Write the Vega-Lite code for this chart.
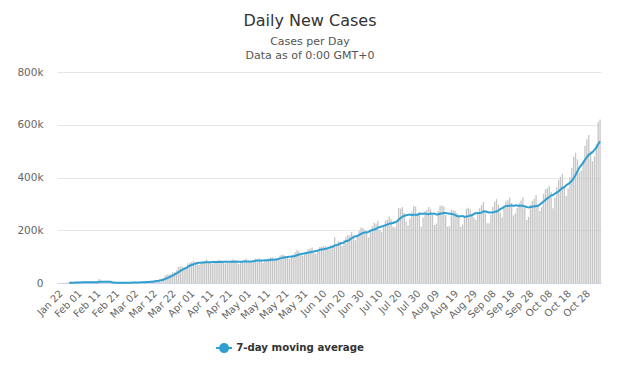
{
"$schema": "https://vega.github.io/schema/vega-lite/v6.json",
"width": 544, "height": 211,
"autosize": {"type": "none"},
"padding": {"left": 57, "top": 72, "right": 19, "bottom": 85},
"background": "white",
"title": {"text": "Daily New Cases", "subtitle": ["Cases per Day", "Data as of 0:00 GMT+0"], "anchor": "middle", "frame": "group", "dx": -19, "font": "DejaVu Sans", "fontSize": 16, "fontWeight": "normal", "color": "#333333", "subtitleFont": "DejaVu Sans", "subtitleFontSize": 11, "subtitleColor": "#555555", "subtitleLineHeight": 14, "subtitlePadding": 7, "offset": 6},
"config": {"view": {"stroke": null}},
"data": {"values": [
{"d":"Jan 22","c":100},{"d":"Jan 23","c":260},{"d":"Jan 24","c":260},{"d":"Jan 25","c":680},{"d":"Jan 26","c":800},{"d":"Jan 27","c":1780},
{"d":"Jan 28","c":1480,"m":766},{"d":"Jan 29","c":1750,"m":1001},{"d":"Jan 30","c":1740,"m":1213},{"d":"Jan 31","c":2000,"m":1461},
{"d":"Feb 01","c":2600,"m":1736},{"d":"Feb 02","c":2800,"m":2021},{"d":"Feb 03","c":3200,"m":2224},{"d":"Feb 04","c":3900,"m":2570},{"d":"Feb 05","c":3700,"m":2849},{"d":"Feb 06","c":3200,"m":3057},{"d":"Feb 07","c":3400,"m":3257},{"d":"Feb 08","c":2700,"m":3271},{"d":"Feb 09","c":2600,"m":3243},{"d":"Feb 10","c":3000,"m":3214},
{"d":"Feb 11","c":2500,"m":3014},{"d":"Feb 12","c":2000,"m":2771},{"d":"Feb 13","c":15100,"m":4471},{"d":"Feb 14","c":6500,"m":4914},{"d":"Feb 15","c":2100,"m":4829},{"d":"Feb 16","c":2000,"m":4743},{"d":"Feb 17","c":2000,"m":4600},{"d":"Feb 18","c":1900,"m":4514},{"d":"Feb 19","c":550,"m":4307},{"d":"Feb 20","c":600,"m":2236},
{"d":"Feb 21","c":1000,"m":1450},{"d":"Feb 22","c":1000,"m":1293},{"d":"Feb 23","c":500,"m":1079},{"d":"Feb 24","c":600,"m":879},{"d":"Feb 25","c":900,"m":736},{"d":"Feb 26","c":1000,"m":800},{"d":"Feb 27","c":1300,"m":900},{"d":"Feb 28","c":1400,"m":957},{"d":"Feb 29","c":1900,"m":1086},
{"d":"Mar 01","c":2200,"m":1329},{"d":"Mar 02","c":2000,"m":1529},{"d":"Mar 03","c":2500,"m":1757},{"d":"Mar 04","c":2300,"m":1943},{"d":"Mar 05","c":2800,"m":2157},{"d":"Mar 06","c":4000,"m":2529},{"d":"Mar 07","c":4100,"m":2843},{"d":"Mar 08","c":4000,"m":3100},{"d":"Mar 09","c":4000,"m":3386},{"d":"Mar 10","c":4500,"m":3671},
{"d":"Mar 11","c":7200,"m":4371},{"d":"Mar 12","c":7500,"m":5043},{"d":"Mar 13","c":10000,"m":5900},{"d":"Mar 14","c":10800,"m":6857},{"d":"Mar 15","c":11000,"m":7857},{"d":"Mar 16","c":14000,"m":9286},{"d":"Mar 17","c":15500,"m":10857},{"d":"Mar 18","c":19000,"m":12543},{"d":"Mar 19","c":28000,"m":15471},{"d":"Mar 20","c":32000,"m":18614},
{"d":"Mar 21","c":32000,"m":21643},{"d":"Mar 22","c":33000,"m":24786},{"d":"Mar 23","c":41000,"m":28643},{"d":"Mar 24","c":41000,"m":32286},{"d":"Mar 25","c":48000,"m":36429},{"d":"Mar 26","c":61000,"m":41143},{"d":"Mar 27","c":63000,"m":45571},{"d":"Mar 28","c":63000,"m":50000},{"d":"Mar 29","c":59000,"m":53714},{"d":"Mar 30","c":61000,"m":56571},{"d":"Mar 31","c":74000,"m":61286},
{"d":"Apr 01","c":77000,"m":65429},{"d":"Apr 02","c":80000,"m":68143},{"d":"Apr 03","c":83000,"m":71000},{"d":"Apr 04","c":80000,"m":73429},{"d":"Apr 05","c":77000,"m":76000},{"d":"Apr 06","c":68000,"m":77000},{"d":"Apr 07","c":74000,"m":77000},{"d":"Apr 08","c":81000,"m":77571},{"d":"Apr 09","c":84000,"m":78143},{"d":"Apr 10","c":89000,"m":79000},
{"d":"Apr 11","c":80000,"m":79000},{"d":"Apr 12","c":75000,"m":78714},{"d":"Apr 13","c":72000,"m":79286},{"d":"Apr 14","c":76000,"m":79571},{"d":"Apr 15","c":79000,"m":79286},{"d":"Apr 16","c":86000,"m":79571},{"d":"Apr 17","c":88000,"m":79429},{"d":"Apr 18","c":84000,"m":80000},{"d":"Apr 19","c":78000,"m":80429},{"d":"Apr 20","c":74000,"m":80714},
{"d":"Apr 21","c":78000,"m":81000},{"d":"Apr 22","c":76000,"m":80571},{"d":"Apr 23","c":84000,"m":80286},{"d":"Apr 24","c":90000,"m":80571},{"d":"Apr 25","c":86000,"m":80857},{"d":"Apr 26","c":80000,"m":81143},{"d":"Apr 27","c":72000,"m":80857},{"d":"Apr 28","c":76000,"m":80571},{"d":"Apr 29","c":79000,"m":81000},{"d":"Apr 30","c":87000,"m":81429},
{"d":"May 01","c":92000,"m":81714},{"d":"May 02","c":84000,"m":81429},{"d":"May 03","c":77000,"m":81000},{"d":"May 04","c":78000,"m":81857},{"d":"May 05","c":81000,"m":82571},{"d":"May 06","c":93000,"m":84571},{"d":"May 07","c":90000,"m":85000},{"d":"May 08","c":93000,"m":85143},{"d":"May 09","c":85000,"m":85286},{"d":"May 10","c":76000,"m":85143},
{"d":"May 11","c":83000,"m":85857},{"d":"May 12","c":86000,"m":86571},{"d":"May 13","c":94000,"m":86714},{"d":"May 14","c":97000,"m":87714},{"d":"May 15","c":96000,"m":88143},{"d":"May 16","c":83000,"m":87857},{"d":"May 17","c":88000,"m":89571},{"d":"May 18","c":92000,"m":90857},{"d":"May 19","c":104000,"m":93429},{"d":"May 20","c":107000,"m":95286},
{"d":"May 21","c":106000,"m":96571},{"d":"May 22","c":102000,"m":97429},{"d":"May 23","c":94000,"m":99000},{"d":"May 24","c":91000,"m":99429},{"d":"May 25","c":101000,"m":100714},{"d":"May 26","c":107000,"m":101143},{"d":"May 27","c":117000,"m":102571},{"d":"May 28","c":125000,"m":105286},{"d":"May 29","c":120000,"m":107857},{"d":"May 30","c":106000,"m":109571},{"d":"May 31","c":103000,"m":111286},
{"d":"Jun 01","c":110000,"m":112571},{"d":"Jun 02","c":116000,"m":113857},{"d":"Jun 03","c":128000,"m":115429},{"d":"Jun 04","c":131000,"m":116286},{"d":"Jun 05","c":135000,"m":118429},{"d":"Jun 06","c":116000,"m":119857},{"d":"Jun 07","c":111000,"m":121000},{"d":"Jun 08","c":122000,"m":122714},{"d":"Jun 09","c":136000,"m":125571},{"d":"Jun 10","c":138000,"m":127000},
{"d":"Jun 11","c":139000,"m":128143},{"d":"Jun 12","c":141000,"m":129000},{"d":"Jun 13","c":130000,"m":131000},{"d":"Jun 14","c":128000,"m":133429},{"d":"Jun 15","c":142000,"m":136286},{"d":"Jun 16","c":143000,"m":137286},{"d":"Jun 17","c":173000,"m":142286},{"d":"Jun 18","c":149000,"m":143714},{"d":"Jun 19","c":158000,"m":146143},{"d":"Jun 20","c":155000,"m":149714},
{"d":"Jun 21","c":139000,"m":151286},{"d":"Jun 22","c":163000,"m":154286},{"d":"Jun 23","c":174000,"m":158714},{"d":"Jun 24","c":182000,"m":160000},{"d":"Jun 25","c":180000,"m":164429},{"d":"Jun 26","c":194000,"m":169571},{"d":"Jun 27","c":182000,"m":173429},{"d":"Jun 28","c":162000,"m":176714},{"d":"Jun 29","c":175000,"m":178429},{"d":"Jun 30","c":198000,"m":181857},
{"d":"Jul 01","c":210000,"m":185857},{"d":"Jul 02","c":209000,"m":190000},{"d":"Jul 03","c":202000,"m":191143},{"d":"Jul 04","c":191000,"m":192429},{"d":"Jul 05","c":173000,"m":194000},{"d":"Jul 06","c":204000,"m":198143},{"d":"Jul 07","c":214000,"m":200429},{"d":"Jul 08","c":228000,"m":203000},{"d":"Jul 09","c":225000,"m":205286},{"d":"Jul 10","c":236000,"m":210143},
{"d":"Jul 11","c":202000,"m":211714},{"d":"Jul 12","c":193000,"m":214571},{"d":"Jul 13","c":217000,"m":216429},{"d":"Jul 14","c":236000,"m":219571},{"d":"Jul 15","c":240000,"m":221286},{"d":"Jul 16","c":252000,"m":225143},{"d":"Jul 17","c":242000,"m":226000},{"d":"Jul 18","c":214000,"m":227714},{"d":"Jul 19","c":210000,"m":230143},{"d":"Jul 20","c":237000,"m":233000},
{"d":"Jul 21","c":285000,"m":240000},{"d":"Jul 22","c":282000,"m":246000},{"d":"Jul 23","c":288000,"m":251143},{"d":"Jul 24","c":265000,"m":254429},{"d":"Jul 25","c":233000,"m":257143},{"d":"Jul 26","c":219000,"m":258429},{"d":"Jul 27","c":245000,"m":259571},{"d":"Jul 28","c":270000,"m":257429},{"d":"Jul 29","c":292000,"m":258857},{"d":"Jul 30","c":290000,"m":259143},{"d":"Jul 31","c":262000,"m":258714},
{"d":"Aug 01","c":265000,"m":263286},{"d":"Aug 02","c":213000,"m":262429},{"d":"Aug 03","c":248000,"m":262857},{"d":"Aug 04","c":272000,"m":263143},{"d":"Aug 05","c":278000,"m":261143},{"d":"Aug 06","c":288000,"m":260857},{"d":"Aug 07","c":279000,"m":263286},{"d":"Aug 08","c":258000,"m":262286},{"d":"Aug 09","c":220000,"m":263286},{"d":"Aug 10","c":226000,"m":260143},
{"d":"Aug 11","c":274000,"m":260429},{"d":"Aug 12","c":293000,"m":262571},{"d":"Aug 13","c":294000,"m":263429},{"d":"Aug 14","c":290000,"m":265000},{"d":"Aug 15","c":258000,"m":265000},{"d":"Aug 16","c":213000,"m":264000},{"d":"Aug 17","c":216000,"m":262571},{"d":"Aug 18","c":277000,"m":263000},{"d":"Aug 19","c":275000,"m":260429},{"d":"Aug 20","c":274000,"m":257571},
{"d":"Aug 21","c":264000,"m":253857},{"d":"Aug 22","c":253000,"m":253143},{"d":"Aug 23","c":213000,"m":253143},{"d":"Aug 24","c":222000,"m":254000},{"d":"Aug 25","c":255000,"m":250857},{"d":"Aug 26","c":282000,"m":251857},{"d":"Aug 27","c":285000,"m":253429},{"d":"Aug 28","c":280000,"m":255714},{"d":"Aug 29","c":262000,"m":257000},{"d":"Aug 30","c":248000,"m":262000},{"d":"Aug 31","c":239000,"m":264429},
{"d":"Sep 01","c":262000,"m":265429},{"d":"Sep 02","c":283000,"m":265571},{"d":"Sep 03","c":295000,"m":267000},{"d":"Sep 04","c":307000,"m":270857},{"d":"Sep 05","c":271000,"m":272143},{"d":"Sep 06","c":227000,"m":269143},{"d":"Sep 07","c":227000,"m":267429},{"d":"Sep 08","c":259000,"m":267000},{"d":"Sep 09","c":288000,"m":267714},{"d":"Sep 10","c":308000,"m":269571},
{"d":"Sep 11","c":318000,"m":271143},{"d":"Sep 12","c":297000,"m":274857},{"d":"Sep 13","c":266000,"m":280429},{"d":"Sep 14","c":248000,"m":283429},{"d":"Sep 15","c":293000,"m":288286},{"d":"Sep 16","c":310000,"m":291429},{"d":"Sep 17","c":314000,"m":292286},{"d":"Sep 18","c":324000,"m":293143},{"d":"Sep 19","c":303000,"m":294000},{"d":"Sep 20","c":256000,"m":292571},
{"d":"Sep 21","c":264000,"m":294857},{"d":"Sep 22","c":284000,"m":293571},{"d":"Sep 23","c":303000,"m":292571},{"d":"Sep 24","c":313000,"m":292429},{"d":"Sep 25","c":325000,"m":292571},{"d":"Sep 26","c":291000,"m":290857},{"d":"Sep 27","c":239000,"m":288429},{"d":"Sep 28","c":251000,"m":286571},{"d":"Sep 29","c":297000,"m":288429},{"d":"Sep 30","c":311000,"m":289571},
{"d":"Oct 01","c":319000,"m":290429},{"d":"Oct 02","c":334000,"m":291714},{"d":"Oct 03","c":298000,"m":292714},{"d":"Oct 04","c":273000,"m":297571},{"d":"Oct 05","c":288000,"m":302857},{"d":"Oct 06","c":338000,"m":308714},{"d":"Oct 07","c":355000,"m":315000},{"d":"Oct 08","c":360000,"m":320857},{"d":"Oct 09","c":368000,"m":325714},{"d":"Oct 10","c":344000,"m":332286},
{"d":"Oct 11","c":283000,"m":333714},{"d":"Oct 12","c":325000,"m":339000},{"d":"Oct 13","c":363000,"m":342571},{"d":"Oct 14","c":391000,"m":347714},{"d":"Oct 15","c":403000,"m":353857},{"d":"Oct 16","c":414000,"m":360429},{"d":"Oct 17","c":367000,"m":363714},{"d":"Oct 18","c":330000,"m":370429},{"d":"Oct 19","c":358000,"m":375143},{"d":"Oct 20","c":401000,"m":380571},
{"d":"Oct 21","c":437000,"m":387143},{"d":"Oct 22","c":479000,"m":398000},{"d":"Oct 23","c":494000,"m":409429},{"d":"Oct 24","c":469000,"m":424000},{"d":"Oct 25","c":419000,"m":436714},{"d":"Oct 26","c":426000,"m":446429},{"d":"Oct 27","c":465000,"m":455571},{"d":"Oct 28","c":520000,"m":467429},{"d":"Oct 29","c":545000,"m":476857},{"d":"Oct 30","c":561000,"m":486429},{"d":"Oct 31","c":500000,"m":490857},
{"d":"Nov 01","c":462000,"m":497000},{"d":"Nov 02","c":480000,"m":504714},{"d":"Nov 03","c":525000,"m":513286},{"d":"Nov 04","c":610000,"m":526143},{"d":"Nov 05","c":620000,"m":536857}
]},
"encoding": {
  "x": {"field": "d", "type": "ordinal", "sort": null, "scale": {"paddingInner": 0.3, "paddingOuter": 0.15},
        "axis": {"title": null, "values": ["Jan 22","Feb 01","Feb 11","Feb 21","Mar 02","Mar 12","Mar 22","Apr 01","Apr 11","Apr 21","May 01","May 11","May 21","May 31","Jun 10","Jun 20","Jun 30","Jul 10","Jul 20","Jul 30","Aug 09","Aug 19","Aug 29","Sep 08","Sep 18","Sep 28","Oct 08","Oct 18","Oct 28"],
                 "labelAngle": -45, "labelFont": "DejaVu Sans", "labelFontSize": 10, "labelColor": "#666666", "ticks": false, "domainColor": "#ccd6eb", "grid": false, "labelPadding": 5, "labelOverlap": false}}
},
"layer": [
  {"mark": {"type": "bar", "color": "#c6c6c6"},
   "encoding": {"y": {"field": "c", "type": "quantitative", "scale": {"domain": [0, 800000], "nice": false},
      "axis": {"title": null, "values": [0, 200000, 400000, 600000, 800000], "labelExpr": "datum.value == 0 ? '0' : (datum.value / 1000) + 'k'", "labelFont": "DejaVu Sans", "labelFontSize": 10.5, "labelColor": "#666666", "grid": true, "gridColor": "#e6e6e6", "domain": false, "ticks": false, "labelPadding": 14}}}},
  {"transform": [{"filter": "isValid(datum.m)"}],
   "mark": {"type": "line", "strokeWidth": 2, "interpolate": "monotone"},
   "encoding": {"y": {"field": "m", "type": "quantitative"},
      "color": {"datum": "7-day moving average", "type": "nominal", "scale": {"range": ["#2f9fd0"]},
        "legend": {"title": null, "orient": "none", "legendX": 162, "legendY": 271, "direction": "horizontal",
          "symbolType": "M-2,0L2,0M-1,0A1,1 0 1,1 1,0A1,1 0 1,1 -1,0", "symbolSize": 64, "symbolStrokeWidth": 2, "labelOffset": 7,
          "labelFont": "DejaVu Sans", "labelFontWeight": "bold", "labelFontSize": 10.2, "labelColor": "#333333",
          "encode": {"symbols": {"update": {"fill": {"value": "#2f9fd0"}, "stroke": {"value": "#2f9fd0"}}}}}}}}
]
}
